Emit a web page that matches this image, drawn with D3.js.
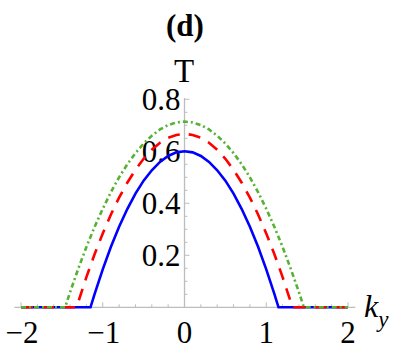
<!DOCTYPE html>
<html><head><meta charset="utf-8">
<script src="https://cdn.jsdelivr.net/npm/d3@7"></script>
<style>body{margin:0;background:#fff}svg{display:block}</style>
</head><body><svg id="c" width="399" height="353"></svg>
<script>
// data
const kBlue = [-2,-1.5,-1.15,-1.1,-1.0,-0.9,-0.8,-0.7,-0.6,-0.5,-0.4,-0.3,-0.2,-0.1,0,0.1,0.2,0.3,0.4,0.5,0.6,0.7,0.8,0.9,1.0,1.1,1.15,1.5,2];
const tBlue = [0,0,0,0.051,0.146,0.233,0.310,0.378,0.437,0.487,0.527,0.559,0.582,0.596,0.600,0.596,0.582,0.559,0.527,0.487,0.437,0.378,0.310,0.233,0.146,0.051,0,0,0];
const kRed = [-2,-1.5,-1.32,-1.3,-1.2,-1.1,-1.0,-0.9,-0.8,-0.7,-0.6,-0.5,-0.4,-0.3,-0.2,-0.1,0,0.1,0.2,0.3,0.4,0.5,0.6,0.7,0.8,0.9,1.0,1.1,1.2,1.3,1.32,1.5,2];
const tRed = [0,0,0,0.020,0.116,0.204,0.284,0.357,0.422,0.479,0.529,0.571,0.606,0.633,0.652,0.663,0.667,0.663,0.652,0.633,0.606,0.571,0.529,0.479,0.422,0.357,0.284,0.204,0.116,0.020,0,0,0];
const kGreen = [-2,-1.7,-1.46,-1.4,-1.3,-1.2,-1.1,-1.0,-0.9,-0.8,-0.7,-0.6,-0.5,-0.4,-0.3,-0.2,-0.1,0,0.1,0.2,0.3,0.4,0.5,0.6,0.7,0.8,0.9,1.0,1.1,1.2,1.3,1.4,1.46,1.7,2];
const tGreen = [0,0,0,0.058,0.148,0.232,0.309,0.379,0.443,0.500,0.550,0.593,0.630,0.660,0.684,0.701,0.711,0.714,0.711,0.701,0.684,0.660,0.630,0.593,0.550,0.500,0.443,0.379,0.309,0.232,0.148,0.058,0,0,0];
const xTicks = [-2,-1,0,1,2];
const xTickLabels = ["\u22122","\u22121","0","1","2"];
const yTicks = [0.2,0.4,0.6,0.8];
const yTickLabels = ["0.2","0.4","0.6","0.8"];

const svg = d3.select("#c");
const x = d3.scaleLinear().domain([-2,2]).range([21,348]);
const y = d3.scaleLinear().domain([0,0.8]).range([307.3,99.3]);
const axisCol = "#bdbdbd";
const font = "'Liberation Serif', 'Times New Roman', serif";

// axes
svg.append("line").attr("x1",x(-2.08)).attr("x2",x(2.09)).attr("y1",y(0)).attr("y2",y(0))
  .attr("stroke",axisCol).attr("stroke-width",1.3);
svg.append("line").attr("x1",x(0)).attr("x2",x(0)).attr("y1",y(0)).attr("y2",y(0.805))
  .attr("stroke",axisCol).attr("stroke-width",1.3);
// x ticks
const xMinor = d3.range(-2,2.001,0.2).map(v=>+v.toFixed(2));
svg.selectAll(".xt").data(xMinor).enter().append("line")
  .attr("x1",d=>x(d)).attr("x2",d=>x(d))
  .attr("y1",y(0)).attr("y2",d=>y(0)-(Math.abs(d-Math.round(d))<1e-6?5:3))
  .attr("stroke",axisCol).attr("stroke-width",1);
const yMinor = d3.range(0.05,0.801,0.05).map(v=>+v.toFixed(2));
svg.selectAll(".yt").data(yMinor).enter().append("line")
  .attr("y1",d=>y(d)).attr("y2",d=>y(d))
  .attr("x1",x(0)).attr("x2",d=>x(0)+(Math.abs(d*5-Math.round(d*5))<1e-6?5:3))
  .attr("stroke",axisCol).attr("stroke-width",1);

// tick labels
svg.selectAll(".xl").data(xTicks).enter().append("text")
  .attr("x",d=>x(d)+(d<0?1:0)).attr("y",343).attr("text-anchor","middle")
  .attr("font-family",font).attr("font-size",31).text((d,i)=>xTickLabels[i]);
svg.selectAll(".yl").data(yTicks).enter().append("text")
  .attr("x",x(0)-4).attr("y",d=>y(d)+11).attr("text-anchor","end")
  .attr("font-family",font).attr("font-size",31).text((d,i)=>yTickLabels[i]);

// curves
const line = d3.line().x(d=>x(d[0])).y(d=>y(d[1]));
function draw(ks, ts, col, dash){
  svg.append("path").datum(ks.map((k,i)=>[k,ts[i]])).attr("d",line)
    .attr("fill","none").attr("stroke",col).attr("stroke-width",2.6)
    .attr("stroke-dasharray",dash);
}
draw(kBlue,tBlue,"#0000ff",null);
draw(kRed,tRed,"#ff0000","12,9");
draw(kGreen,tGreen,"#55b233","5,3,2,3");

// labels
svg.append("text").attr("x",185).attr("y",36).attr("text-anchor","middle")
  .attr("font-family",font).attr("font-size",31).attr("font-weight","bold").text("(d)");
svg.append("text").attr("x",184).attr("y",82).attr("text-anchor","middle")
  .attr("font-family",font).attr("font-size",33).text("T");
const ky = svg.append("text").attr("x",364).attr("y",317)
  .attr("font-family",font).attr("font-size",32).attr("font-style","italic");
ky.append("tspan").text("k");
ky.append("tspan").attr("font-size",23).attr("dy",10).text("y");
</script></body></html>
